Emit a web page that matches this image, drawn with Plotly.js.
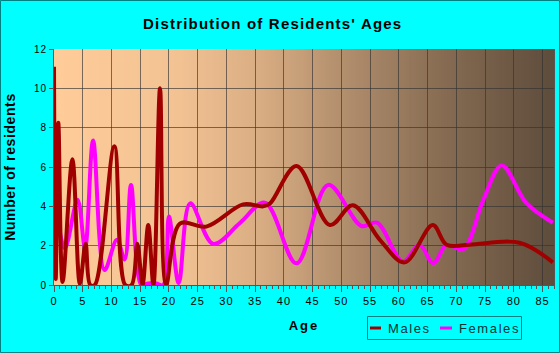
<!DOCTYPE html>
<html>
<head>
<meta charset="utf-8">
<script src="https://cdn.plot.ly/plotly-3.0.1.min.js"></script>
<style>
  html, body { margin: 0; padding: 0; background: #00ffff; }
  #chart { width: 560px; height: 353px; }
  .gtitle { letter-spacing: 1.2px; }
  .xtitle { letter-spacing: 2px; }
  .ytitle { letter-spacing: 0.6px; }
  .xtick text, .ytick text { letter-spacing: 1px; }
  .annotation-text { letter-spacing: 1.6px; }
</style>
</head>
<body>
<div id="chart"></div>
<script>
// ---- data ----
const maleAges = [0, 0.3, 0.75, 1.5, 3.2, 4.5, 5.5, 6.3, 7.1, 10.5, 12.4, 13.5, 14.5, 15.4, 16.4, 17.3, 18.45, 19.5, 21.9, 26.5, 32.9, 36.4, 37.6, 42.2, 48.0, 52.0, 56.7, 61.0, 65.9, 68.3, 72.3, 81.0, 86.8];
const maleCounts = [11.1, 0.3, 8.25, 0.15, 6.4, 0.05, 2.1, 0, 0, 7.05, 0, 0, 2.1, 0, 3.05, 0, 10.0, 0, 3.12, 2.97, 4.1, 4.0, 4.15, 6.05, 3.05, 4.05, 2.3, 1.15, 3.05, 2.05, 2.05, 2.15, 1.15];

const femaleAges = [0.5, 1.9, 4.1, 5.4, 6.8, 8.8, 10.95, 12.3, 13.4, 15.2, 16.3, 17.8, 19.0, 20.0, 21.7, 23.7, 27.7, 32.3, 36.7, 42.2, 47.7, 53.5, 56.2, 60.7, 63.6, 66.0, 68.3, 71.2, 74.7, 77.9, 82.2, 86.8];
const femaleCounts = [3.65, 1.87, 4.33, 1.9, 7.35, 0.76, 2.3, 1.3, 5.09, 0, 0.08, 0.08, 0, 3.48, 0.1, 4.15, 2.09, 3.14, 4.19, 1.1, 5.09, 3.0, 3.17, 1.19, 2.04, 1.1, 2.04, 1.82, 4.33, 6.08, 4.16, 3.17];

const seriesNames = ['Males', 'Females'];
const seriesColors = ['#a00000', '#ff00ff'];

// ---- layout geometry (pixels) ----
const W = 560, H = 353, ML = 54, MR = 6, MT = 49, MB = 68;
const PW = W - ML - MR, PH = H - MT - MB;
const px = x => (x - ML) / PW;          // pixel -> paper x
const py = y => (H - MB - y) / PH;      // pixel -> paper y

// ---- background gradient ----
const bgStops = [[0, [255, 204, 153]], [0.25, [242, 194, 147]], [0.41, [217, 173, 131]], [0.63, [166, 133, 102]], [0.79, [132, 106, 81]], [1, [94, 76, 60]]];
function bgColor(t) {
  for (let i = 0; i < bgStops.length - 1; i++) {
    const [a, ca] = bgStops[i], [b, cb] = bgStops[i + 1];
    if (t <= b) {
      const f = (t - a) / (b - a);
      const c = ca.map((v, k) => Math.round(v + (cb[k] - v) * f));
      return 'rgb(' + c.join(',') + ')';
    }
  }
  return 'rgb(' + bgStops[bgStops.length - 1][1].join(',') + ')';
}
const N = 200;
const shapes = [];
for (let i = 0; i < N; i++) {
  shapes.push({
    type: 'rect', xref: 'paper', yref: 'paper', layer: 'below',
    x0: i / N, x1: Math.min(1, (i + 1) / N + 0.003), y0: 0, y1: 1,
    fillcolor: bgColor((i + 0.5) / N), line: { width: 0 }
  });
}
// outer frame
shapes.push({ type: 'rect', xref: 'paper', yref: 'paper', layer: 'above',
  x0: px(0.5), x1: px(W - 0.5), y0: py(H - 0.5), y1: py(0.5), line: { color: '#008080', width: 1 } });

// ---- custom legend (box, samples, labels) ----
const legBox = { x0: 367.5, x1: 521.5, y0: 316.5, y1: 339.5 };
const legItems = [{ lx0: 370, lx1: 381, tx: 386 }, { lx0: 440, lx1: 452, tx: 457 }];
const legY = 328;
shapes.push({ type: 'rect', xref: 'paper', yref: 'paper', layer: 'above',
  x0: px(legBox.x0), x1: px(legBox.x1), y0: py(legBox.y1), y1: py(legBox.y0),
  fillcolor: '#00ffff', line: { color: '#008080', width: 1 } });
const annotations = [];
legItems.forEach((it, i) => {
  shapes.push({ type: 'line', xref: 'paper', yref: 'paper', layer: 'above',
    x0: px(it.lx0), x1: px(it.lx1), y0: py(legY), y1: py(legY), line: { color: seriesColors[i], width: 3 } });
  annotations.push({ xref: 'paper', yref: 'paper', x: px(it.tx), y: py(legY), xanchor: 'left', yanchor: 'middle',
    text: seriesNames[i], showarrow: false, font: { family: 'Arial, "Liberation Sans", sans-serif', size: 13, color: '#033' } });
});

const traces = [
  { x: femaleAges, y: femaleCounts, name: seriesNames[1], type: 'scatter', mode: 'lines',
    line: { color: seriesColors[1], width: 4, shape: 'spline', smoothing: 1 } },
  { x: maleAges, y: maleCounts, name: seriesNames[0], type: 'scatter', mode: 'lines',
    line: { color: seriesColors[0], width: 4, shape: 'spline', smoothing: 1 } }
];

const font = 'Arial, "Liberation Sans", sans-serif';
const layout = {
  width: W, height: H,
  paper_bgcolor: '#00ffff', plot_bgcolor: 'rgba(0,0,0,0)',
  margin: { l: ML, r: MR, t: MT, b: MB, autoexpand: false },
  font: { family: font, color: '#000', size: 11 },
  title: { text: "<b>Distribution of Residents' Ages</b>", font: { family: font, size: 15, color: '#000' },
    x: 0.487, xanchor: 'center', y: 1 - 24 / H, yanchor: 'middle', yref: 'container' },
  xaxis: {
    range: [0, 87], tick0: 0, dtick: 5, showgrid: true, gridcolor: 'rgba(50,50,50,0.65)', gridwidth: 1,
    ticks: 'outside', ticklen: 6, tickcolor: '#555', tickwidth: 1,
    minor: { dtick: 1, ticks: 'outside', ticklen: 3, tickcolor: '#555', showgrid: false },
    showline: true, linecolor: '#555', linewidth: 1, zeroline: false, automargin: false,
    tickfont: { family: font, size: 11, color: '#000' },
    title: { text: '<b>Age</b>', font: { family: font, size: 13, color: '#000' }, standoff: 14 },
    fixedrange: true
  },
  yaxis: {
    range: [0, 12], tick0: 0, dtick: 2, showgrid: true, gridcolor: 'rgba(50,50,50,0.65)', gridwidth: 1,
    ticks: 'outside', ticklen: 4, tickcolor: '#555', tickwidth: 1,
    showline: true, linecolor: '#555', linewidth: 1, mirror: true, zeroline: false, automargin: false,
    tickfont: { family: font, size: 10, color: '#000' },
    title: { text: '<b>Number of residents</b>', font: { family: font, size: 14, color: '#000' }, standoff: 14 },
    fixedrange: true
  },
  showlegend: false,
  shapes: shapes,
  annotations: annotations
};

Plotly.newPlot('chart', traces, layout, { displayModeBar: false, staticPlot: true });
</script>
</body>
</html>
